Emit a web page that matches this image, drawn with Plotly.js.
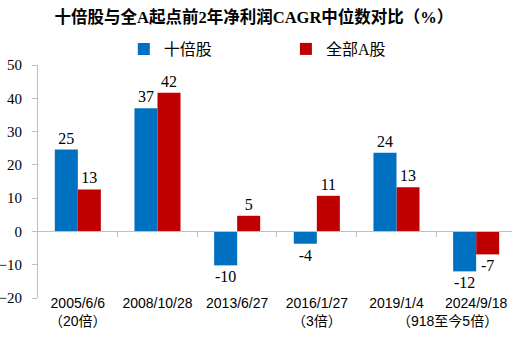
<!DOCTYPE html>
<html>
<head>
<meta charset="utf-8">
<script src="https://cdn.plot.ly/plotly-3.0.1.min.js"></script>
<style>html,body{margin:0;padding:0;background:#fff;}#chart{width:512px;height:358px;}</style>
</head>
<body>
<div id="chart"></div>
<script>
const categories = ['2005/6/6', '2008/10/28', '2013/6/27', '2016/1/27', '2019/1/4', '2024/9/18'];
const notes = ['（20倍）', '', '', '（3倍）', '', '（918至今5倍）'];
const tenBaggers = [24.6, 37.0, -10.2, -3.7, 23.6, -12.0];
const allA = [12.6, 41.7, 4.7, 10.7, 13.3, -6.9];
const seriesNames = ['十倍股', '全部A股'];
const yTicks = [-20, -10, 0, 10, 20, 30, 40, 50];

const idx = categories.map((_, i) => i);
const serif = 'Liberation Serif, "Noto Sans CJK SC", serif';
const cjk = 'Liberation Serif, "Noto Sans CJK SC", serif';
const grey = '#bfbfbf';
const barW = 0.289;

const traces = [
  {
    type: 'bar', name: seriesNames[0], x: idx, y: tenBaggers,
    xaxis: 'x2', yaxis: 'y', width: barW, offset: -barW,
    marker: {color: '#0070C0'},
    texttemplate: '%{y:.0f}', textposition: 'outside', cliponaxis: false,
    textfont: {family: serif, size: 16, color: '#000'},
    legend: 'legend', hoverinfo: 'skip'
  },
  {
    type: 'bar', name: seriesNames[1], x: idx, y: allA,
    xaxis: 'x', yaxis: 'y', width: barW, offset: 0,
    marker: {color: '#C00000'},
    texttemplate: '%{y:.0f}', textposition: 'outside', cliponaxis: false,
    textfont: {family: serif, size: 16, color: '#000'},
    legend: 'legend2', hoverinfo: 'skip'
  }
];

const annotations = notes.map((n, i) => {
  const last = i === notes.length - 1;
  return {
    text: n, xref: 'x2', yref: 'paper', x: i, y: -0.098,
    xanchor: last ? 'right' : 'center', xshift: last ? 24 : 0, yanchor: 'middle',
    showarrow: false, font: {family: '"Liberation Sans", "Noto Sans CJK TC", sans-serif', size: 14, color: '#000'}
  };
}).filter(a => a.text);

const xr = [-0.5, 5.45];
const layout = {
  width: 512, height: 358,
  margin: {l: 38, r: 0, t: 65, b: 60, pad: 0},
  paper_bgcolor: '#fff', plot_bgcolor: 'rgba(0,0,0,0)',
  showlegend: true,
  title: {
    text: '十倍股与全A起点前2年净利润CAGR中位数对比（%）',
    font: {family: cjk, size: 16.5, color: '#000', weight: 'bold'},
    x: 0.496, xref: 'container', y: 1 - 17 / 358, yref: 'container', yanchor: 'middle'
  },
  xaxis: {
    type: 'linear', range: xr, anchor: 'free', position: 2 / 7,
    showline: true, linecolor: grey, linewidth: 1,
    ticks: 'outside', ticklen: 5, tickcolor: grey,
    tickvals: idx.slice(0, -1).map(i => i + 0.5),
    showticklabels: false, showgrid: false, zeroline: false, fixedrange: true
  },
  xaxis2: {
    type: 'linear', range: xr, overlaying: 'x', anchor: 'free', position: 0.02,
    showline: false, ticks: '', tickvals: idx, ticktext: categories,
    tickfont: {family: '"Liberation Sans", sans-serif', size: 14, color: '#000'},
    showgrid: false, zeroline: false, fixedrange: true
  },
  yaxis: {
    range: [-20, 50], tickvals: yTicks,
    showline: true, linecolor: grey, linewidth: 1,
    ticks: 'outside', ticklen: 5, tickcolor: grey,
    ticklabelstandoff: 7,
    tickfont: {family: serif, size: 15, color: '#000'},
    showgrid: false, zeroline: false, fixedrange: true
  },
  legend: {
    orientation: 'h', x: 0.181, xanchor: 'left', y: 1 + 16 / 233, yanchor: 'middle',
    font: {family: cjk, size: 16, color: '#000'}, bgcolor: 'rgba(0,0,0,0)'
  },
  legend2: {
    orientation: 'h', x: 0.523, xanchor: 'left', y: 1 + 16 / 233, yanchor: 'middle',
    font: {family: cjk, size: 16, color: '#000'}, bgcolor: 'rgba(0,0,0,0)'
  },
  annotations: annotations
};

Plotly.newPlot('chart', traces, layout, {displayModeBar: false, staticPlot: true});
</script>
</body>
</html>
